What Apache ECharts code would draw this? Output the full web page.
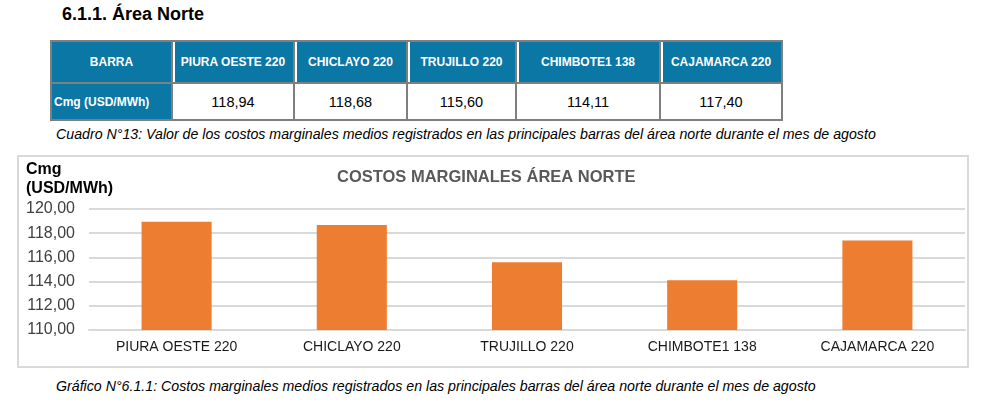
<!DOCTYPE html>
<html lang="es">
<head>
    <meta charset="UTF-8">
    <title>Área Norte</title>
    <script src="https://cdn.jsdelivr.net/npm/echarts@6/dist/echarts.min.js"></script>
    <style>
        html,body{
            margin: 0;
            padding: 0;
            width: 981px;
            height: 414px;
            background: #fff;
            font-family: "Liberation Sans", Arial, sans-serif;
            position: relative;
            overflow: hidden;
        }
        #titulo{
            position: absolute;
            left: 62px;
            top: 4px;
            font-size: 18px;
            font-weight: bold;
            color: #000;
        }
        #tabla{
            position: absolute;
            left: 50px;
            top: 40px;
            border-collapse: collapse;
            table-layout: fixed;
        }
        #tabla td{
            border: 2px solid #7f7f7f;
            padding: 0;
            text-align: center;
            font-size: 14.5px;
            color: #000;
            height: 35px;
        }
        #tabla tr.cab td{
            background: #0a77a5;
            color: #fff;
            font-size: 12px;
            font-weight: bold;
            height: 40px;
            box-shadow: inset 2px 0 0 #fff;
        }
        #tabla tr.cab td:first-child{
            box-shadow: none;
        }
        #tabla td.rot{
            background: #0a77a5;
            color: #fff;
            font-size: 12px;
            font-weight: bold;
            text-align: left;
            padding-left: 2px;
        }
        .nota{
            position: absolute;
            left: 56px;
            font-size: 14.2px;
            font-style: italic;
            color: #000;
        }
        #caja{
            position: absolute;
            left: 17px;
            top: 155px;
            width: 948px;
            height: 209px;
            border: 2px solid #d9d9d9;
        }
        #main{
            width: 948px;
            height: 209px;
        }
    </style>
</head>
<body>
<div id="titulo">6.1.1. Área Norte</div>
<table id="tabla">
    <tr class="cab" id="filaCab"></tr>
    <tr id="filaVal"></tr>
</table>
<div class="nota" style="top:126px">Cuadro N°13: Valor de los costos marginales medios registrados en las principales barras del área norte durante el mes de agosto</div>
<!--contenedor del grafico-->
<div id="caja"><div id="main"></div></div>
<div class="nota" style="top:378px">Gráfico N°6.1.1: Costos marginales medios registrados en las principales barras del área norte durante el mes de agosto</div>
</body>
</html>
<script>
    // datos
    var barras = ['PIURA OESTE 220', 'CHICLAYO 220', 'TRUJILLO 220', 'CHIMBOTE1 138', 'CAJAMARCA 220'];
    var cmg = [118.94, 118.68, 115.60, 114.11, 117.40];
    var anchoCol = [121, 122, 113, 109, 144, 122];
    var yMin = 110, yMax = 120, yPaso = 2;

    function coma(v) {
        return v.toFixed(2).replace('.', ',');
    }

    // tabla
    var cab = document.getElementById('filaCab');
    var fil = document.getElementById('filaVal');
    var c0 = document.createElement('td');
    c0.textContent = 'BARRA';
    c0.style.width = (anchoCol[0] - 2) + 'px';
    cab.appendChild(c0);
    var v0 = document.createElement('td');
    v0.className = 'rot';
    v0.textContent = 'Cmg (USD/MWh)';
    fil.appendChild(v0);
    for (var i = 0; i < barras.length; i++) {
        var c = document.createElement('td');
        c.textContent = barras[i];
        c.style.width = (anchoCol[i + 1] - 2) + 'px';
        cab.appendChild(c);
        var v = document.createElement('td');
        v.textContent = coma(cmg[i]);
        fil.appendChild(v);
    }

    // grafico
    var myChart = echarts.init(document.getElementById('main'));
    var fuente = '"Liberation Sans", Arial, sans-serif';
    var option = {
        animation: false,
        title: [
            {
                text: 'COSTOS MARGINALES ÁREA NORTE',
                left: 318,
                top: 12,
                padding: 0,
                textStyle: {fontSize: 16.5, fontWeight: 'bold', color: '#595959', fontFamily: fuente}
            },
            {
                text: 'Cmg\n(USD/MWh)',
                left: 7,
                top: 3,
                padding: 0,
                textStyle: {fontSize: 16, fontWeight: 'bold', color: '#000', lineHeight: 19, fontFamily: fuente}
            }
        ],
        grid: {left: 70, right: 2, top: 52, bottom: 36},
        xAxis: {
            type: 'category',
            data: barras,
            axisLine: {lineStyle: {color: '#d9d9d9', width: 2}},
            axisTick: {show: false},
            axisLabel: {fontSize: 14, color: '#1a1a1a', margin: 10, fontFamily: fuente}
        },
        yAxis: {
            type: 'value',
            min: yMin,
            max: yMax,
            interval: yPaso,
            axisLine: {show: false},
            axisTick: {show: false},
            axisLabel: {
                fontSize: 16, color: '#404040', margin: 14, fontFamily: fuente,
                formatter: function (v) { return coma(v); }
            },
            splitLine: {lineStyle: {color: '#d9d9d9', width: 2}}
        },
        series: [
            {
                name: 'Cmg',
                type: 'bar',
                barWidth: '40%',
                data: cmg,
                itemStyle: {color: '#ed7d31'}
            }
        ]
    };
    myChart.setOption(option);
</script>
